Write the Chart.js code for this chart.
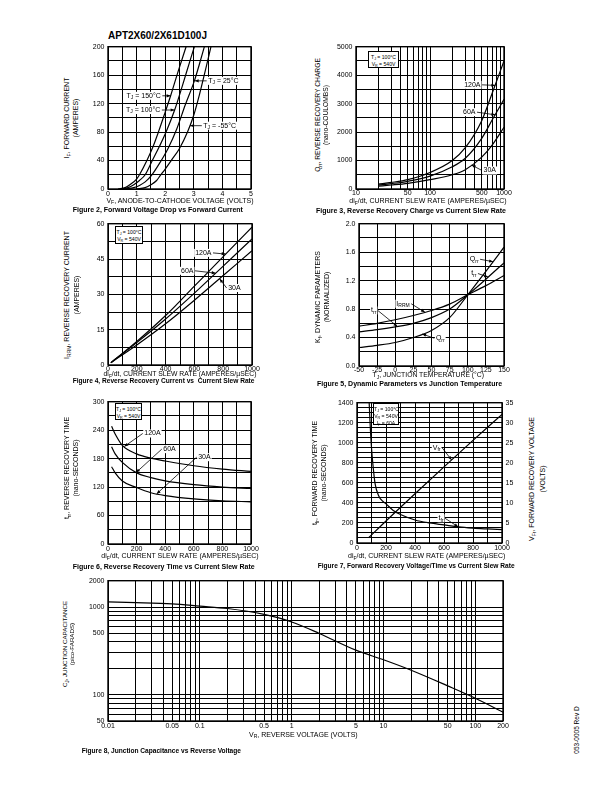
<!DOCTYPE html>
<html lang="en">
<head>
<meta charset="UTF-8">
<title>APT2X60/2X61D100J</title>
<script src="https://cdn.jsdelivr.net/npm/chart.js"></script>
<style>
  body { margin: 0; background: #fff; font-family: "Liberation Sans", Arial, Helvetica, sans-serif; color: #000; }
  #page { position: relative; width: 612px; height: 792px; overflow: hidden; }
  canvas { position: absolute; }
  .t { position: absolute; white-space: nowrap; line-height: 1; font-size: 7px; }
  .c { transform: translate(-50%, -50%); }
  .v { transform: translate(-50%, -50%) rotate(-90deg); }
  .cap { font-weight: bold; }
  .inset { position: absolute; border: 1px solid #000; background: #fff; font-size: 5.1px; line-height: 6px; text-align: center; box-sizing: border-box; padding-top: 1.5px; white-space: nowrap; }
  sub { font-size: 72%; vertical-align: baseline; position: relative; top: 0.35em; }
</style>
</head>
<body>
<div id="page">
  <div class="t cap" style="left:108px;top:30.5px;font-size:10px">APT2X60/2X61D100J</div>

  <canvas id="fig2"></canvas>
  <canvas id="fig3"></canvas>
  <canvas id="fig4"></canvas>
  <canvas id="fig5"></canvas>
  <canvas id="fig6"></canvas>
  <canvas id="fig7"></canvas>
  <canvas id="fig8"></canvas>

  <!-- figure 2 -->
  <div class="t c" style="left:180px;top:200.7px">V<sub>F</sub>, ANODE-TO-CATHODE VOLTAGE (VOLTS)</div>
  <div class="t v" style="left:67px;top:118px">I<sub>F</sub>, FORWARD CURRENT</div>
  <div class="t v" style="left:75px;top:118px">(AMPERES)</div>
  <div class="t cap" style="left:72.7px;top:206.2px">Figure 2, Forward Voltage Drop vs Forward Current</div>

  <!-- figure 3 -->
  <div class="inset" style="left:368px;top:51px;width:31px;height:17px">T<sub>J</sub> = 100°C<br>V<sub>R</sub> = 540V</div>
  <div class="t c" style="left:428px;top:201.3px">di<sub>F</sub>/dt, CURRENT SLEW RATE (AMPERES/µSEC)</div>
  <div class="t v" style="left:317.7px;top:115px;font-size:6.7px">Q<sub>rr</sub>, REVERSE RECOVERY CHARGE</div>
  <div class="t v" style="left:325.7px;top:115px;font-size:6.7px">(nano-COULOMBS)</div>
  <div class="t cap" style="left:316px;top:206.7px">Figure 3, Reverse Recovery Charge vs Current Slew Rate</div>

  <!-- figure 4 -->
  <div class="inset" style="left:115px;top:226px;width:28px;height:18px">T<sub>J</sub> = 100°C<br>V<sub>R</sub> = 540V</div>
  <div class="t c" style="left:180px;top:374.3px;font-size:6.8px">di<sub>F</sub>/dt, CURRENT SLEW RATE (AMPERES/µSEC)</div>
  <div class="t v" style="left:67px;top:294.7px">I<sub>RRM</sub>, REVERSE RECOVERY CURRENT</div>
  <div class="t v" style="left:75.5px;top:294.7px">(AMPERES)</div>
  <div class="t cap" style="left:72.7px;top:378.2px;font-size:6.6px">Figure 4, Reverse Recovery Current vs &nbsp;Current Slew Rate</div>

  <!-- figure 5 -->
  <div class="t c" style="left:428.3px;top:375.3px;font-size:6.8px">T<sub>J</sub>, JUNCTION TEMPERATURE (°C)</div>
  <div class="t v" style="left:317.7px;top:297px">K<sub>f</sub>, DYNAMIC PARAMETERS</div>
  <div class="t v" style="left:325.7px;top:297px">(NORMALIZED)</div>
  <div class="t cap" style="left:317px;top:379.5px">Figure 5, Dynamic Parameters vs Junction Temperature</div>

  <!-- figure 6 -->
  <div class="inset" style="left:115px;top:403px;width:27px;height:17px">T<sub>J</sub> = 100°C<br>V<sub>R</sub> = 540V</div>
  <div class="t c" style="left:180px;top:556.3px">di<sub>F</sub>/dt, CURRENT SLEW RATE (AMPERES/µSEC)</div>
  <div class="t v" style="left:66.7px;top:468px">t<sub>rr</sub>, REVERSE RECOVERY TIME</div>
  <div class="t v" style="left:75px;top:468px">(nano-SECONDS)</div>
  <div class="t cap" style="left:72.7px;top:562.8px">Figure 6, Reverse Recovery Time vs Current Slew Rate</div>

  <!-- figure 7 -->
  <div class="inset" style="left:373px;top:403px;width:26px;height:22px">T<sub>J</sub> = 100°C<br>V<sub>R</sub> = 540V<br>I<sub>F</sub> = 60A</div>
  <div class="t c" style="left:426.7px;top:556.3px">di<sub>F</sub>/dt, CURRENT SLEW RATE (AMPERES/µSEC)</div>
  <div class="t v" style="left:315px;top:473px">t<sub>fr</sub>, FORWARD RECOVERY TIME</div>
  <div class="t v" style="left:323.3px;top:473px">(nano-SECONDS)</div>
  <div class="t v" style="left:531.7px;top:479px">V<sub>Fr</sub>, FORWARD RECOVERY VOLTAGE</div>
  <div class="t v" style="left:541.7px;top:479px">(VOLTS)</div>
  <div class="t cap" style="left:317.7px;top:563.4px;font-size:6.6px">Figure 7, Forward Recovery Voltage/Time vs Current Slew Rate</div>

  <!-- figure 8 -->
  <div class="t c" style="left:303.3px;top:734.7px">V<sub>R</sub>, REVERSE VOLTAGE (VOLTS)</div>
  <div class="t v" style="left:65px;top:643.8px;font-size:6.2px">C<sub>J</sub>, JUNCTION CAPACITANCE</div>
  <div class="t v" style="left:72px;top:643.8px;font-size:6.2px">(pico-FARADS)</div>
  <div class="t cap" style="left:81.7px;top:748px;font-size:6.6px">Figure 8, Junction Capacitance vs Reverse Voltage</div>

  <div class="t v" style="left:577px;top:730px;font-size:6.5px">053-0005 Rev D</div>
</div>

<script>
  const FONT = '"Liberation Sans", Arial, Helvetica, sans-serif';

  // ---- Figure 2: forward voltage vs forward current
  const vf150 = [0.35, 0.6, 0.8, 1.0, 1.1, 1.36, 1.58, 1.78, 2.0, 2.19, 2.45, 2.73];
  const if150 = [0, 2, 7, 14, 20, 40, 60, 82, 108, 131, 165, 200];
  const vf100 = [0.45, 0.7, 0.9, 1.1, 1.3, 1.55, 1.8, 2.03, 2.33, 2.6, 2.85, 3.02];
  const if100 = [0, 2, 6, 12, 20, 40, 60, 80, 111, 145, 178, 200];
  const vf25 = [0.6, 0.9, 1.1, 1.3, 1.5, 1.8, 2.1, 2.4, 2.7, 3.02, 3.2, 3.37];
  const if25 = [0, 2, 5, 10, 18, 36, 57, 84, 118, 152, 176, 200];
  const vf55 = [1.0, 1.3, 1.5, 1.7, 1.83, 2.0, 2.21, 2.5, 2.78, 3.0, 3.2, 3.4, 3.6];
  const if55 = [0, 2, 6, 12, 19, 28, 40, 57, 80, 104, 133, 166, 200];
  const fig2XLabels = [0, 1, 2, 3, 4, 5];
  const fig2YLabels = [0, 40, 80, 120, 160, 200];

  // ---- Figure 3: Qrr vs slew rate
  const slew3 = [20, 30, 50, 100, 200, 300, 500, 700, 1000];
  const qrr120 = [170, 230, 330, 580, 1000, 1450, 2400, 3400, 4500];
  const qrr60 = [140, 190, 270, 450, 780, 1080, 1780, 2450, 3150];
  const qrr30 = [100, 140, 200, 330, 500, 680, 1120, 1560, 2170];
  const fig3XLabels = [10, 50, 100, 500, 1000];
  const fig3YLabels = [0, 1000, 2000, 3000, 4000, 5000];

  // ---- Figure 4: Irrm vs slew rate
  const slew4 = [20, 200, 400, 600, 800, 1000];
  const irrm120 = [1, 10, 21, 33.5, 46, 58.5];
  const irrm60 = [1, 9.5, 19.5, 30.5, 42, 53.5];
  const irrm30 = [1, 8.5, 17.5, 27.5, 38, 48.5];
  const slewLabels = [0, 200, 400, 600, 800, 1000];
  const fig4YLabels = [0, 15, 30, 45, 60];

  // ---- Figure 5: normalized dynamic parameters vs Tj
  const tj = [-50, -25, 0, 25, 50, 75, 100, 125, 150];
  const kQrr = [0.26, 0.29, 0.33, 0.4, 0.5, 0.68, 1.0, 1.33, 1.67];
  const kTrr = [0.48, 0.51, 0.55, 0.6, 0.68, 0.8, 1.0, 1.22, 1.45];
  const kIrrm = [0.56, 0.6, 0.65, 0.71, 0.78, 0.87, 1.0, 1.13, 1.27];
  const fig5XLabels = [-50, -25, 0, 25, 50, 75, 100, 125, 150];
  const fig5YLabels = [0, 0.4, 0.8, 1.2, 1.6, 2.0];

  // ---- Figure 6: trr vs slew rate
  const slew6 = [25, 50, 100, 200, 300, 400, 600, 800, 1000];
  const trr120 = [248, 232, 208, 190, 181, 175, 165, 158, 153];
  const trr60 = [205, 190, 172, 150, 140, 133, 125, 120, 117];
  const trr30 = [163, 150, 133, 119, 108, 102, 95, 91, 89];
  const fig6YLabels = [0, 60, 120, 180, 240, 300];

  // ---- Figure 7: tfr / Vfr vs slew rate
  const slewTfr = [84, 90, 100, 110, 125, 150, 175, 200, 250, 300, 400, 500, 600, 700, 800, 900, 1000];
  const tfr = [1400, 1200, 950, 780, 590, 470, 420, 390, 325, 285, 230, 200, 180, 160, 148, 140, 133];
  const slewVfr = [80, 200, 400, 600, 800, 1000];
  const vfr = [1.3, 5.5, 12.3, 19.0, 25.6, 32.1];
  const fig7YLabels = [0, 200, 400, 600, 800, 1000, 1200, 1400];
  const fig7Y2Labels = [0, 5, 10, 15, 20, 25, 30, 35];

  // ---- Figure 8: junction capacitance vs reverse voltage
  const vr = [0.01, 0.02, 0.05, 0.1, 0.2, 0.5, 1, 2, 5, 10, 20, 50, 100, 200];
  const cj = [1145, 1125, 1087, 1025, 963, 824, 676, 500, 322, 250, 190, 126, 91, 63];
  const fig8XLabels = [0.01, 0.05, 0.1, 0.5, 1, 5, 10, 50, 100, 200];
  const fig8YLabels = [50, 100, 500, 1000, 2000];

  // grid helpers
  function steps(a, b, d) {
    const out = [];
    for (let i = 0; a + i * d <= b + 1e-9; i++) out.push(Math.round((a + i * d) * 1000) / 1000);
    return out;
  }
  function logGrid(lo, hi) {
    const out = [];
    for (let k = -3; k <= 4; k++) {
      for (let m = 1; m <= 9; m++) {
        const v = Number((m * Math.pow(10, k)).toPrecision(6));
        if (v >= lo - 1e-12 && v <= hi + 1e-9) out.push(v);
      }
    }
    return out;
  }

  Chart.defaults.font.family = FONT;
  Chart.defaults.font.size = 7;
  Chart.defaults.color = '#000';

  const YW = 28, XH = 12, PT = 6, PR = 9;

  function axis(o) {
    const isX = o.pos === 'bottom';
    return {
      type: o.type || 'linear',
      position: o.pos,
      min: o.min, max: o.max,
      grid: { display: !!o.grid, color: '#000', lineWidth: 1, drawTicks: false },
      border: { display: false },
      ticks: {
        autoSkip: false, maxRotation: 0, minRotation: 0,
        padding: o.pad !== undefined ? o.pad : (isX ? 1 : 3.5),
        font: { size: 7 },
        color: '#000',
        callback: v => o.labels.includes(v) ? (o.fmt ? o.fmt(v) : String(v)) : ''
      },
      afterBuildTicks: s => { s.ticks = (o.grid || o.labels).map(v => ({ value: v })); },
      afterFit: s => { if (isX) s.height = XH; else s.width = o.w || YW; }
    };
  }

  function line(xs, ys, yAxisID) {
    return {
      data: xs.map((x, i) => ({ x: x, y: ys[i] })),
      yAxisID: yAxisID || 'y',
      showLine: true,
      borderColor: '#000',
      borderWidth: 1.2,
      pointRadius: 0,
      fill: false,
      cubicInterpolationMode: 'monotone'
    };
  }

  const frame = {
    id: 'frame',
    afterDraw(chart) {
      const ctx = chart.ctx, a = chart.chartArea;
      ctx.save();
      ctx.lineWidth = 1.4;
      ctx.strokeStyle = '#000';
      ctx.strokeRect(a.left, a.top, a.right - a.left, a.bottom - a.top);
      ctx.restore();
    }
  };

  function drawRich(ctx, parts, x, y, align) {
    const big = '7px ' + FONT, small = '5px ' + FONT;
    let w = 0;
    parts.forEach(p => { ctx.font = p[1] ? small : big; w += ctx.measureText(p[0]).width; });
    let cx = align === 'right' ? x - 1.5 - w : x + 1.5;
    ctx.fillStyle = '#fff';
    ctx.fillRect(cx - 1, y - 4, w + 2, 8);
    ctx.fillStyle = '#000';
    ctx.textBaseline = 'middle';
    ctx.textAlign = 'left';
    parts.forEach(p => {
      ctx.font = p[1] ? small : big;
      ctx.fillText(p[0], cx, p[1] ? y + 1.9 : y);
      cx += ctx.measureText(p[0]).width;
    });
  }

  function arrow(ctx, x0, y0, x1, y1) {
    ctx.strokeStyle = '#000';
    ctx.fillStyle = '#000';
    ctx.lineWidth = 0.8;
    ctx.beginPath(); ctx.moveTo(x0, y0); ctx.lineTo(x1, y1); ctx.stroke();
    const a = Math.atan2(y1 - y0, x1 - x0), L = 4, W = 1.6;
    ctx.beginPath();
    ctx.moveTo(x1, y1);
    ctx.lineTo(x1 - L * Math.cos(a) + W * Math.sin(a), y1 - L * Math.sin(a) - W * Math.cos(a));
    ctx.lineTo(x1 - L * Math.cos(a) - W * Math.sin(a), y1 - L * Math.sin(a) + W * Math.cos(a));
    ctx.closePath();
    ctx.fill();
  }

  // curve labels with leader arrows, placed in data units
  function notesFor(items) {
    return {
      id: 'notes',
      afterDatasetsDraw(chart) {
        const ctx = chart.ctx;
        ctx.save();
        items.forEach(n => {
          const xs = chart.scales.x, ys = chart.scales[n.axis || 'y'];
          const lx = xs.getPixelForValue(n.lx), ly = ys.getPixelForValue(n.ly);
          const tx = xs.getPixelForValue(n.tx), ty = ys.getPixelForValue(n.ty);
          arrow(ctx, lx, ly, tx, ty);
          drawRich(ctx, n.t, lx, ly, n.al);
        });
        ctx.restore();
      }
    };
  }

  function mk(id, r, scales, datasets, notes, rw) {
    const padR = rw ? 2 : PR;
    const w = YW + (r.r - r.l) + (rw || 0) + padR;
    const h = PT + (r.b - r.t) + XH;
    const cv = document.getElementById(id);
    cv.width = w; cv.height = h;
    cv.style.left = (r.l - YW) + 'px';
    cv.style.top = (r.t - PT) + 'px';
    cv.style.width = w + 'px';
    cv.style.height = h + 'px';
    return new Chart(cv, {
      type: 'scatter',
      data: { datasets: datasets },
      options: {
        responsive: false,
        animation: false,
        layout: { padding: { left: 0, top: PT, right: padR, bottom: 0 } },
        plugins: { legend: { display: false }, tooltip: { enabled: false } },
        scales: scales
      },
      plugins: [frame, notesFor(notes || [])]
    });
  }

  const TJ = (v) => [['T'], ['J', 1], [' = ' + v]];
  const slewGrid = steps(0, 1000, 100);

  // Figure 2
  mk('fig2', { l: 108, t: 45, r: 251, b: 189 }, {
    x: axis({ pos: 'bottom', min: 0, max: 5, grid: steps(0, 5, 0.5), labels: fig2XLabels }),
    y: axis({ pos: 'left', min: 0, max: 200, grid: steps(0, 200, 20), labels: fig2YLabels })
  }, [line(vf150, if150), line(vf100, if100), line(vf25, if25), line(vf55, if55)], [
    { t: TJ('150°C'), lx: 1.9, ly: 131, tx: 2.19, ty: 131, al: 'right' },
    { t: TJ('100°C'), lx: 1.88, ly: 111, tx: 2.33, ty: 111, al: 'right' },
    { t: TJ('25°C'), lx: 3.45, ly: 152, tx: 3.03, ty: 152, al: 'left' },
    { t: TJ('-55°C'), lx: 3.28, ly: 89, tx: 2.87, ty: 89, al: 'left' }
  ]);

  // Figure 3
  mk('fig3', { l: 356, t: 45, r: 504, b: 189 }, {
    x: axis({ pos: 'bottom', type: 'logarithmic', min: 10, max: 1000, grid: logGrid(10, 1000), labels: fig3XLabels, pad: 0 }),
    y: axis({ pos: 'left', min: 0, max: 5000, grid: steps(0, 5000, 500), labels: fig3YLabels })
  }, [line(slew3, qrr120), line(slew3, qrr60), line(slew3, qrr30)], [
    { t: [['120A']], lx: 505, ly: 3660, tx: 765, ty: 3640, al: 'right' },
    { t: [['60A']], lx: 431, ly: 2700, tx: 765, ty: 2605, al: 'right' },
    { t: [['30A']], lx: 505, ly: 650, tx: 366, ty: 839, al: 'left' }
  ]);

  // Figure 4
  mk('fig4', { l: 108, t: 222, r: 252, b: 365 }, {
    x: axis({ pos: 'bottom', min: 0, max: 1000, grid: slewGrid, labels: slewLabels, pad: -0.5 }),
    y: axis({ pos: 'left', min: 0, max: 60, grid: steps(0, 60, 7.5), labels: fig4YLabels })
  }, [line(slew4, irrm120), line(slew4, irrm60), line(slew4, irrm30)], [
    { t: [['120A']], lx: 729, ly: 47.6, tx: 817, ty: 47.1, al: 'right' },
    { t: [['60A']], lx: 604, ly: 40, tx: 748, ty: 39, al: 'right' },
    { t: [['30A']], lx: 824, ly: 32.7, tx: 775, ty: 36.6, al: 'left' }
  ]);

  // Figure 5
  mk('fig5', { l: 359, t: 222, r: 504, b: 366 }, {
    x: axis({ pos: 'bottom', min: -50, max: 150, grid: fig5XLabels, labels: fig5XLabels, pad: -0.5 }),
    y: axis({ pos: 'left', min: 0, max: 2, grid: steps(0, 2, 0.2), labels: fig5YLabels, fmt: v => v.toFixed(1) })
  }, [line(tj, kQrr), line(tj, kTrr), line(tj, kIrrm)], [
    { t: [['Q'], ['rr', 1]], lx: 117, ly: 1.5, tx: 135, ty: 1.466, al: 'right' },
    { t: [['t'], ['rr', 1]], lx: 114, ly: 1.3, tx: 128, ty: 1.25, al: 'right' },
    { t: [['I'], ['RRM', 1]], lx: 22, ly: 0.875, tx: 41, ty: 0.755, al: 'right' },
    { t: [['t'], ['rr', 1]], lx: -24, ly: 0.78, tx: 3, ty: 0.556, al: 'right' },
    { t: [['Q'], ['rr', 1]], lx: 54, ly: 0.39, tx: 37, ty: 0.45, al: 'left' }
  ]);

  // Figure 6
  mk('fig6', { l: 108, t: 400, r: 251, b: 544 }, {
    x: axis({ pos: 'bottom', min: 0, max: 1000, grid: slewGrid, labels: slewLabels }),
    y: axis({ pos: 'left', min: 0, max: 300, grid: steps(0, 300, 30), labels: fig6YLabels })
  }, [line(slew6, trr120), line(slew6, trr60), line(slew6, trr30)], [
    { t: [['120A']], lx: 243, ly: 233, tx: 114, ty: 205.5, al: 'left' },
    { t: [['60A']], lx: 376, ly: 200, tx: 196, ty: 150.5, al: 'left' },
    { t: [['30A']], lx: 620, ly: 183, tx: 340, ty: 105.6, al: 'left' }
  ]);

  // Figure 7
  mk('fig7', { l: 357, t: 401, r: 502, b: 543 }, {
    x: axis({ pos: 'bottom', min: 0, max: 1000, grid: slewGrid, labels: slewLabels }),
    y: axis({ pos: 'left', min: 0, max: 1400, grid: steps(0, 1400, 50), labels: fig7YLabels }),
    y2: axis({ pos: 'right', min: 0, max: 35, grid: null, labels: fig7Y2Labels, w: 20 })
  }, [line(slewTfr, tfr), line(slewVfr, vfr, 'y2')], [
    { t: [['V'], ['fr', 1]], lx: 586, ly: 23.8, tx: 653, ty: 20.7, al: 'right', axis: 'y2' },
    { t: [['t'], ['fr', 1]], lx: 607, ly: 247, tx: 699, ty: 160, al: 'right' }
  ], 20);

  // Figure 8
  mk('fig8', { l: 108, t: 579, r: 503, b: 721 }, {
    x: axis({ pos: 'bottom', type: 'logarithmic', min: 0.01, max: 200, grid: logGrid(0.01, 200), labels: fig8XLabels }),
    y: axis({ pos: 'left', type: 'logarithmic', min: 50, max: 2000, grid: logGrid(50, 2000), labels: fig8YLabels })
  }, [line(vr, cj)]);
</script>
</body>
</html>
